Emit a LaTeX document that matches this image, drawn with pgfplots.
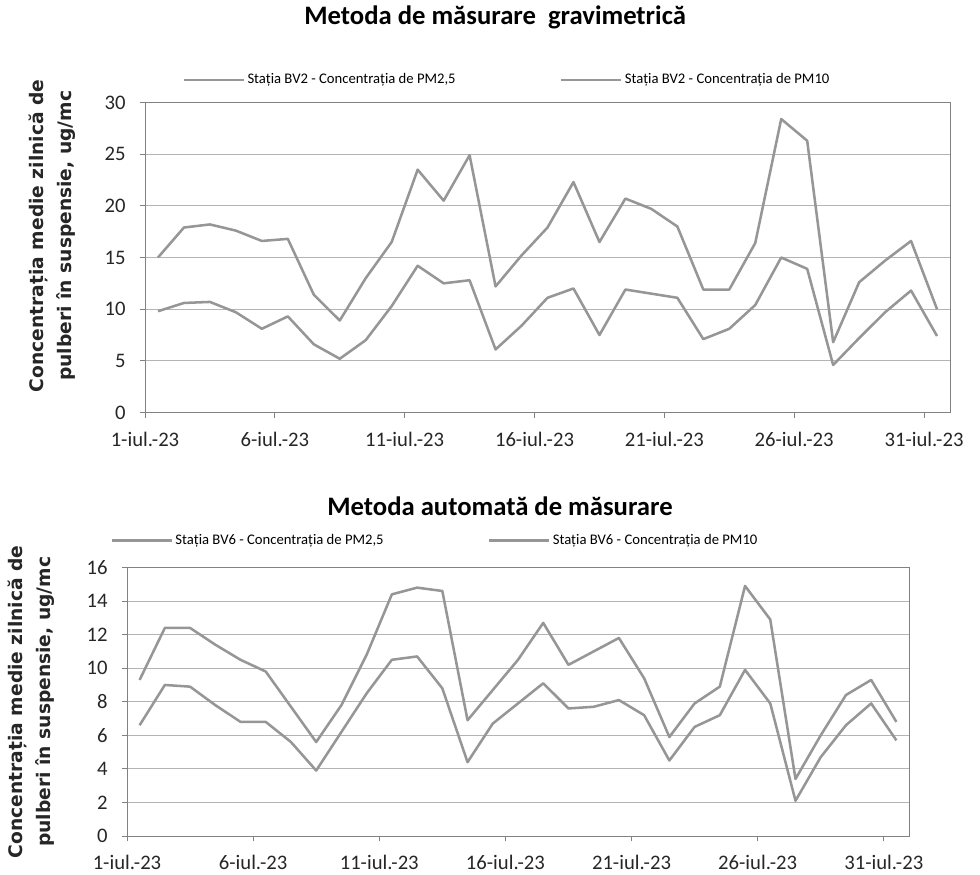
\documentclass[border=0pt]{standalone}
\usepackage{pgfplots}
\pgfplotsset{compat=1.18}
\usepackage{fontspec}
\setmainfont{Carlito}
\newfontfamily\dejavu{DejaVu Sans}
\definecolor{lineg}{RGB}{150,150,150}
\definecolor{gridg}{RGB}{180,180,180}
\definecolor{axg}{RGB}{130,130,130}
\pgfplotsset{
  common/.style={
    scale only axis,
    anchor=south west,
    xmin=0, xmax=31,
    xtick={0,5,10,15,20,25,30},
    xticklabels={1-iul.-23,6-iul.-23,11-iul.-23,16-iul.-23,21-iul.-23,26-iul.-23,31-iul.-23},
    ymajorgrids,
    grid style={draw=gridg, line width=0.7pt},
    axis line style={draw=axg, line width=0.7pt},
    tick align=outside,
    major tick length=4pt,
    tick style={draw=axg, line width=0.6pt},
    xtick pos=bottom, ytick pos=left,
    /pgf/number format/assume math mode=true,
    tick label style={font=\fontsize{15.5}{18}\selectfont, text=black!85},
    xticklabel style={yshift=-7pt},
    yticklabel style={xshift=-7pt},
    legend columns=2,
    legend cell align=left,
    legend style={draw=none, fill=none, inner sep=0pt, anchor=west,
      font=\fontsize{11}{13}\selectfont,
      /tikz/every even column/.append style={column sep=76pt}},
    legend image code/.code={\draw[#1] (0pt,0pt) -- (45pt,0pt);},
    title style={font=\bfseries\fontsize{20}{24}\selectfont, anchor=center},
    ylabel style={anchor=center, align=center, font=\dejavu\bfseries\fontsize{14}{21}\selectfont, text=black!85},
    cycle list={{draw=lineg, line width=1.9pt, line join=round},{draw=lineg, line width=1.9pt, line join=round}},
  }
}
\begin{document}
\begin{tikzpicture}
\path[use as bounding box] (0pt,0pt) rectangle (735pt,655.5pt);
% ---------- top chart ----------
\begin{axis}[common,
  at={(108.75pt,346.125pt)},
  width=603.75pt, height=232.5pt,
  ymin=0, ymax=30, ytick={0,5,...,30},
  title={Metoda de măsurare\ \ gravimetrică},
  title style={at={(axis description cs:0.435,1.25)}},
  ylabel={Concentrația medie zilnică de\\pulberi în suspensie, ug/mc},
  ylabel style={at={(axis description cs:-0.1155,0.57)}},
  legend style={at={(axis description cs:0.046,1.073)}},
]
\addplot coordinates {
(0.5,9.8)(1.5,10.6)(2.5,10.7)(3.5,9.7)(4.5,8.1)(5.5,9.3)(6.5,6.6)(7.5,5.2)(8.5,7.0)(9.5,10.3)
(10.5,14.2)(11.5,12.5)(12.5,12.8)(13.5,6.1)(14.5,8.4)(15.5,11.1)(16.5,12.0)(17.5,7.5)(18.5,11.9)(19.5,11.5)
(20.5,11.1)(21.5,7.1)(22.5,8.1)(23.5,10.4)(24.5,15.0)(25.5,13.9)(26.5,4.6)(27.5,7.2)(28.5,9.7)(29.5,11.8)(30.5,7.4)};
\addlegendentry{Stația BV2 - Concentrația de PM2,5}
\addplot coordinates {
(0.5,15.0)(1.5,17.9)(2.5,18.2)(3.5,17.6)(4.5,16.6)(5.5,16.8)(6.5,11.4)(7.5,8.9)(8.5,13.0)(9.5,16.5)
(10.5,23.5)(11.5,20.5)(12.5,24.9)(13.5,12.2)(14.5,15.2)(15.5,17.9)(16.5,22.3)(17.5,16.5)(18.5,20.7)(19.5,19.7)
(20.5,18.0)(21.5,11.9)(22.5,11.9)(23.5,16.4)(24.5,28.4)(25.5,26.3)(26.5,6.8)(27.5,12.6)(28.5,14.7)(29.5,16.6)(30.5,10.0)};
\addlegendentry{Stația BV2 - Concentrația de PM10}
\end{axis}
% ---------- bottom chart ----------
\begin{axis}[common,
  at={(95.25pt,28.5pt)},
  width=586.5pt, height=201.375pt,
  ymin=0, ymax=16, ytick={0,2,...,16},
  title={Metoda automată de măsurare},
  title style={at={(axis description cs:0.477,1.2)}},
  ylabel={Concentrația medie zilnică de\\pulberi în suspensie, ug/mc},
  ylabel style={at={(axis description cs:-0.1228,0.5)}},
  legend style={at={(axis description cs:-0.0217,1.1)}},
]
\addplot coordinates {
(0.5,6.6)(1.5,9.0)(2.5,8.9)(3.5,7.8)(4.5,6.8)(5.5,6.8)(6.5,5.6)(7.5,3.9)(8.5,6.2)(9.5,8.5)
(10.5,10.5)(11.5,10.7)(12.5,8.8)(13.5,4.4)(14.5,6.7)(15.5,7.9)(16.5,9.1)(17.5,7.6)(18.5,7.7)(19.5,8.1)
(20.5,7.2)(21.5,4.5)(22.5,6.5)(23.5,7.2)(24.5,9.9)(25.5,7.9)(26.5,2.1)(27.5,4.7)(28.5,6.6)(29.5,7.9)(30.5,5.7)};
\addlegendentry{Stația BV6 - Concentrația de PM2,5}
\addplot coordinates {
(0.5,9.3)(1.5,12.4)(2.5,12.4)(3.5,11.4)(4.5,10.5)(5.5,9.8)(6.5,7.7)(7.5,5.6)(8.5,7.8)(9.5,10.8)
(10.5,14.4)(11.5,14.8)(12.5,14.6)(13.5,6.9)(14.5,8.7)(15.5,10.5)(16.5,12.7)(17.5,10.2)(18.5,11.0)(19.5,11.8)
(20.5,9.4)(21.5,5.9)(22.5,7.9)(23.5,8.9)(24.5,14.9)(25.5,12.9)(26.5,3.4)(27.5,6.0)(28.5,8.4)(29.5,9.3)(30.5,6.8)};
\addlegendentry{Stația BV6 - Concentrația de PM10}
\end{axis}
\end{tikzpicture}
\end{document}
